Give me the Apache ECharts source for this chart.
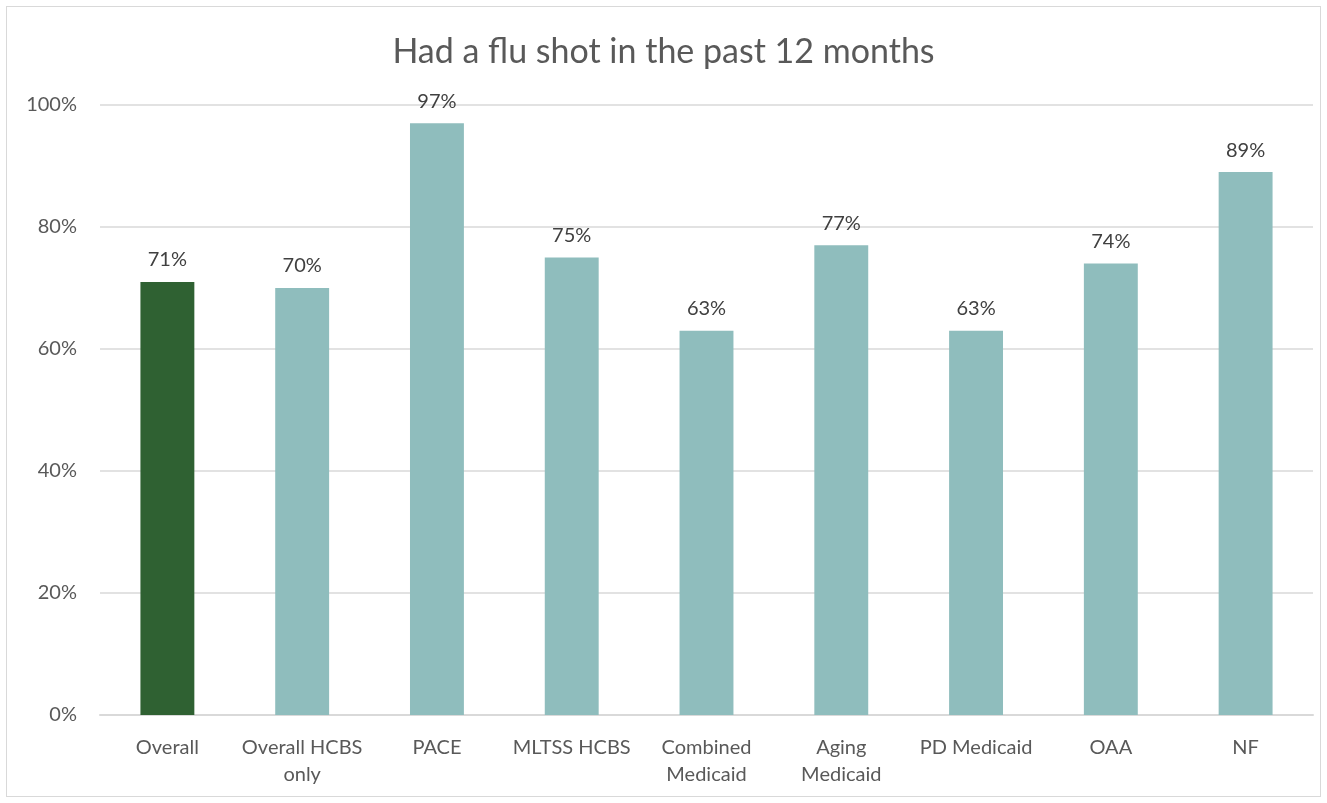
<!DOCTYPE html>
<html>
<head>
<meta charset="utf-8">
<script src="https://cdn.jsdelivr.net/npm/echarts@6/dist/echarts.min.js"></script>
<style>
  html, body { margin: 0; padding: 0; background: #fff; }
  #frame { position: absolute; left: 6px; top: 6px; width: 1313px; height: 789px; border: 1px solid #d9d9d9; }
  #chart { position: absolute; left: 0; top: 0; width: 1327px; height: 803px; }
</style>
</head>
<body>
<div id="frame"></div>
<div id="chart"></div>
<script>
const titleText = 'Had a flu shot in the past 12 months';
const categories = ['Overall', 'Overall HCBS only', 'PACE', 'MLTSS HCBS', 'Combined Medicaid',
                    'Aging Medicaid', 'PD Medicaid', 'OAA', 'NF'];
const categoryLines = ['Overall', 'Overall HCBS\nonly', 'PACE', 'MLTSS HCBS', 'Combined\nMedicaid',
                       'Aging\nMedicaid', 'PD Medicaid', 'OAA', 'NF'];
const fluShotPct = [71, 70, 97, 75, 63, 77, 63, 74, 89];
const yTicks = [0, 20, 40, 60, 80, 100];

const overallColor = '#2f6132';
const groupColor = '#8fbdbd';
const fontFamily = 'Lato, "Open Sans", sans-serif';

const chart = echarts.init(document.getElementById('chart'), null, { renderer: 'canvas' });
chart.setOption({
  animation: false,
  title: {
    text: titleText,
    left: 'center',
    top: 30,
    textStyle: { fontFamily, fontSize: 34, fontWeight: 'normal', color: '#595959' }
  },
  grid: { left: 100, right: 14, top: 105, bottom: 88, containLabel: false },
  xAxis: {
    type: 'category',
    data: categories,
    axisLine: { lineStyle: { color: '#d9d9d9', width: 2 } },
    axisTick: { show: false },
    axisLabel: {
      interval: 0,
      margin: 19,
      fontFamily, fontSize: 20, color: '#595959', lineHeight: 27,
      formatter: (v, i) => categoryLines[i]
    }
  },
  yAxis: {
    type: 'value',
    min: yTicks[0],
    max: yTicks[yTicks.length - 1],
    interval: yTicks[1] - yTicks[0],
    axisLine: { show: false },
    axisTick: { show: false },
    splitLine: { lineStyle: { color: '#d9d9d9', width: 1.5 } },
    axisLabel: { margin: 23, fontFamily, fontSize: 20, color: '#595959', formatter: '{value}%' }
  },
  series: [{
    type: 'bar',
    barWidth: '40%',
    data: fluShotPct.map((v, i) => ({ value: v, itemStyle: { color: i === 0 ? overallColor : groupColor } })),
    label: {
      show: true,
      position: 'top',
      distance: 12,
      fontFamily, fontSize: 20, color: '#404040',
      formatter: p => p.value + '%'
    }
  }]
});
</script>
</body>
</html>
